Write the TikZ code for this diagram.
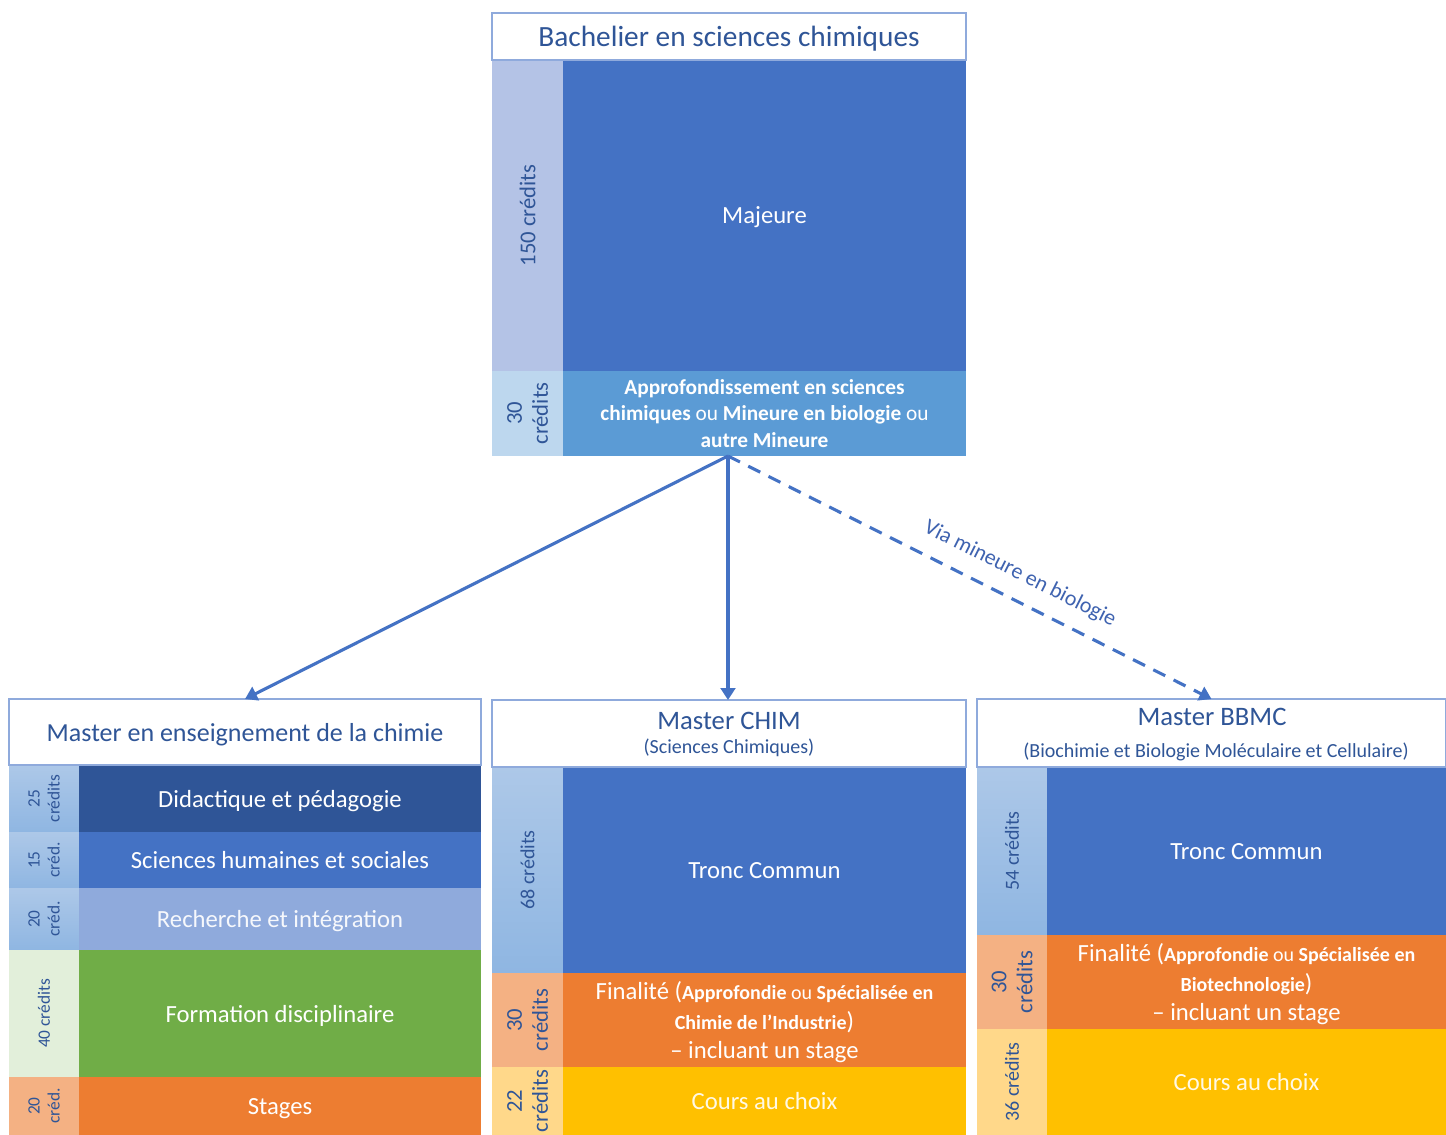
\documentclass[tikz,border=0pt]{standalone}
\usepackage{fontspec}
\setmainfont{Carlito}
\usetikzlibrary{arrows.meta,calc}
\definecolor{tblue}{HTML}{2F5597}
\definecolor{acc}{HTML}{4472C4}
\definecolor{acclight}{HTML}{5B9BD5}
\definecolor{bordc}{HTML}{8FAADC}
\definecolor{lav}{HTML}{B4C3E6}
\definecolor{palebl}{HTML}{BDD7EE}
\definecolor{stripbltop}{HTML}{ADC8E8}
\definecolor{stripblbot}{HTML}{8FB6E2}
\definecolor{darkbl}{HTML}{2F5597}
\definecolor{midbl}{HTML}{8FAADC}
\definecolor{grn}{HTML}{70AD47}
\definecolor{palegrn}{HTML}{E2EFDA}
\definecolor{orng}{HTML}{ED7D31}
\definecolor{paleor}{HTML}{F4B183}
\definecolor{yel}{HTML}{FFC000}
\definecolor{paleyel}{HTML}{FFD88A}
\definecolor{vialbl}{HTML}{3F63B0}
\newcommand\fT{\fontsize{22}{26}\selectfont}
\newcommand\fM{\fontsize{19.5}{24}\selectfont}
\newcommand\fR{\fontsize{18.5}{22}\selectfont}
\newcommand\fS{\fontsize{15}{18}\selectfont}
\tikzset{
  cellsty/.style={inner sep=0pt, outer sep=0pt, draw=none, align=center, text=white, text depth=0pt},
  titlesty/.style={inner sep=0pt, outer sep=0pt, fill=white, draw=bordc, line width=1.2pt, align=center, text=tblue},
  lblsty/.style={inner sep=0pt, outer sep=0pt, rotate=90, align=center, text=tblue},
  lbig/.style={font=\fontsize{17}{19.5}\selectfont},
  lmid/.style={font=\fontsize{15}{18}\selectfont},
  lsmall/.style={font=\fontsize{13}{15}\selectfont},
  arr/.style={draw=acc, line width=2.3pt, -{Triangle[width=11pt,length=9pt]}},
  dasharr/.style={arr, dash pattern=on 10pt off 7pt},
}
\newcommand\cellbox[7]{\node[cellsty,#6,minimum width={(#4-#2)*0.75pt},minimum height={(#5-#3)*0.75pt}] (#1) at ({(#2+#4)/2},{(#3+#5)/2}) {#7};}
\newcommand\lblat[4]{\node[lblsty,#3] (#1) at (#2) {#4};}
\begin{document}
\begin{tikzpicture}[x=0.75pt,y=-0.75pt]
\useasboundingbox (0,0) rectangle (1446,1135);
\fill[white] (0,0) rectangle (1446,1135);

% ---------- Bachelier ----------
\cellbox{bstrip1}{492}{60}{563}{371}{fill=lav}{}
\lblat{bl1}{bstrip1.center}{lbig}{150 crédits}
\cellbox{majeure}{563}{60}{966}{371}{fill=acc}{\fR Majeure}
\cellbox{bstrip2}{492}{371}{563}{456}{fill=palebl}{}
\lblat{bl2}{bstrip2.center}{lbig}{30\\crédits}
\cellbox{appro}{563}{371}{966}{456}{fill=acclight,font=\fontsize{16}{19.8}\selectfont}{\textbf{Approfondissement en sciences}\\\textbf{chimiques} ou \textbf{Mineure en biologie} ou\\\textbf{autre Mineure}}
\cellbox{bach}{492}{13}{966}{60}{titlesty}{\fT Bachelier en sciences chimiques}

% ---------- Master enseignement ----------
\cellbox{ls1}{9}{765}{79}{832}{top color=stripbltop,bottom color=stripblbot}{}
\lblat{ll1}{ls1.center}{lsmall}{25\\crédits}
\cellbox{did}{79}{765}{481}{832}{fill=darkbl}{\fR Didactique et pédagogie}
\cellbox{ls2}{9}{832}{79}{888}{top color=stripbltop,bottom color=stripblbot}{}
\lblat{ll2}{ls2.center}{lsmall}{15\\créd.}
\cellbox{shs}{79}{832}{481}{888}{fill=acc}{\fR Sciences humaines et sociales}
\cellbox{ls3}{9}{888}{79}{950}{top color=stripbltop,bottom color=stripblbot}{}
\lblat{ll3}{ls3.center}{lsmall}{20\\créd.}
\cellbox{rech}{79}{888}{481}{950}{fill=midbl,text=white!92!midbl}{\fR Recherche et intégration}
\cellbox{ls4}{9}{950}{79}{1077}{fill=palegrn}{}
\lblat{ll4}{ls4.center}{lsmall}{40 crédits}
\cellbox{form}{79}{950}{481}{1077}{fill=grn}{\fR Formation disciplinaire}
\cellbox{ls5}{9}{1077}{79}{1135}{fill=paleor}{}
\lblat{ll5}{ls5.center}{lsmall}{20\\créd.}
\cellbox{stag}{79}{1077}{481}{1135}{fill=orng}{\fR Stages}
\cellbox{mens}{9}{699}{481}{765}{titlesty}{\fM Master en enseignement de la chimie}

% ---------- Master CHIM ----------
\cellbox{cs1}{492}{767}{563}{973}{top color=stripbltop,bottom color=stripblbot}{}
\lblat{cl1}{cs1.center}{lmid}{68 crédits}
\cellbox{ctc}{563}{767}{966}{973}{fill=acc}{\fR Tronc Commun}
\cellbox{cs2}{492}{973}{563}{1067}{fill=paleor}{}
\lblat{cl2}{cs2.center}{lbig}{30\\crédits}
\cellbox{cfin}{563}{973}{966}{1067}{fill=orng,font=\fontsize{15}{22}\selectfont}{{\fR Finalité (}\textbf{Approfondie} ou \textbf{Spécialisée en}\\\textbf{Chimie de l’Industrie}{\fR )}\\{\fR – incluant un stage}}
\cellbox{cs3}{492}{1067}{563}{1135}{fill=paleyel}{}
\lblat{cl3}{cs3.center}{lbig}{22\\crédits}
\cellbox{ccc}{563}{1067}{966}{1135}{fill=yel,text=white!90!yel}{\fR Cours au choix}
\cellbox{mchim}{492}{700}{966}{767}{titlesty}{}
\node[text=tblue, inner sep=0pt] (mchimt) at (729,721) {\fontsize{20}{24}\selectfont Master CHIM};
\node[text=tblue, inner sep=0pt] (mchims) at (729,748) {\fS (Sciences Chimiques)};

% ---------- Master BBMC ----------
\cellbox{rs1}{977}{767}{1047}{935}{top color=stripbltop,bottom color=stripblbot}{}
\lblat{rl1}{rs1.center}{lmid}{54 crédits}
\cellbox{rtc}{1047}{767}{1446}{935}{fill=acc}{\fR Tronc Commun}
\cellbox{rs2}{977}{935}{1047}{1029}{fill=paleor}{}
\lblat{rl2}{rs2.center}{lbig}{30\\crédits}
\cellbox{rfin}{1047}{935}{1446}{1029}{fill=orng,font=\fontsize{15}{22}\selectfont}{{\fR Finalité (}\textbf{Approfondie} ou \textbf{Spécialisée en}\\\textbf{Biotechnologie}{\fR )}\\{\fR – incluant un stage}}
\cellbox{rs3}{977}{1029}{1047}{1135}{fill=paleyel}{}
\lblat{rl3}{rs3.center}{lmid}{36 crédits}
\cellbox{rcc}{1047}{1029}{1446}{1135}{fill=yel,text=white!90!yel}{\fR Cours au choix}
\cellbox{mbbmc}{977}{699}{1446}{767}{titlesty}{}
\node[text=tblue, inner sep=0pt] (mbbmct) at (1212,717) {\fontsize{20}{24}\selectfont Master BBMC};
\node[text=tblue, inner sep=0pt] (mbbmcs) at (1216,752) {\fS (Biochimie et Biologie Moléculaire et Cellulaire)};

% ---------- connectors ----------
\coordinate (src) at (728,456);
\draw[arr] (src) -- (mens.north);
\draw[arr] (src) -- (src |- mchim.north);
\draw[dasharr] (src) -- node[pos=0.58, sloped, above=11pt, text=vialbl, inner sep=0pt, font=\fontsize{16.5}{19}\selectfont] (via) {Via mineure en biologie} (mbbmc.north);
\end{tikzpicture}
\end{document}
